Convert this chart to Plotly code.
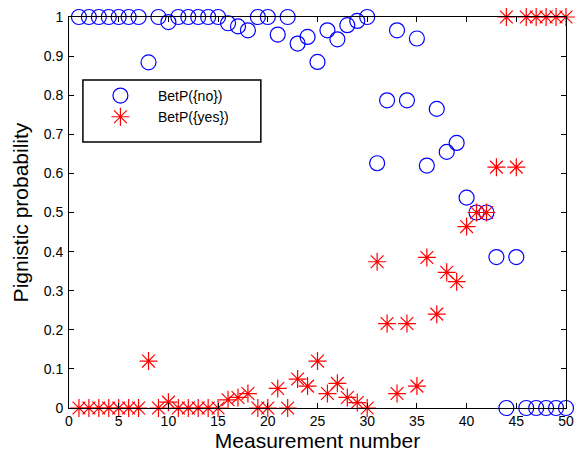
import plotly.graph_objects as go

measurement = list(range(1, 51))

betp_no = [1.0, 1.0, 1.0, 1.0, 1.0, 1.0, 1.0, 0.884, 1.0, 0.987,
           1.0, 1.0, 1.0, 1.0, 1.0, 0.984, 0.976, 0.966, 1.0, 1.0,
           0.955, 1.0, 0.932, 0.949, 0.885, 0.966, 0.943, 0.979, 0.990, 1.0,
           0.626, 0.787, 0.966, 0.787, 0.945, 0.620, 0.765, 0.655, 0.678, 0.538,
           0.5, 0.5, 0.386, 0.0, 0.386, 0.0, 0.0, 0.0, 0.0, 0.0]

betp_yes = [0.0, 0.0, 0.0, 0.0, 0.0, 0.0, 0.0, 0.12, 0.0, 0.015,
            0.0, 0.0, 0.0, 0.0, 0.0, 0.021, 0.027, 0.037, 0.0, 0.0,
            0.05, 0.0, 0.074, 0.056, 0.12, 0.037, 0.063, 0.027, 0.014, 0.0,
            0.374, 0.216, 0.037, 0.216, 0.056, 0.385, 0.24, 0.347, 0.323, 0.464,
            0.5, 0.5, 0.616, 1.0, 0.616, 1.0, 1.0, 1.0, 1.0, 1.0]

x_ticks = [0, 5, 10, 15, 20, 25, 30, 35, 40, 45, 50]
y_ticks = [0, 0.1, 0.2, 0.3, 0.4, 0.5, 0.6, 0.7, 0.8, 0.9, 1]
y_tick_labels = ["0", "0.1", "0.2", "0.3", "0.4", "0.5", "0.6", "0.7", "0.8", "0.9", "1"]

FONT = "Liberation Sans, Arial, Helvetica, sans-serif"

fig = go.Figure()
fig.add_trace(go.Scatter(
    x=measurement, y=betp_no, mode="markers", name="BetP({no})",
    legendgroup="no",
    marker=dict(symbol="circle-open", size=15, color="#0000ff",
                line=dict(width=1.2, color="#0000ff")),
    cliponaxis=False,
))
fig.add_trace(go.Scatter(
    x=measurement, y=betp_yes, mode="markers", name="BetP({yes})",
    legendgroup="yes",
    marker=dict(symbol="asterisk-open", size=15, color="#ff0000",
                line=dict(width=1.2, color="#ff0000")),
    cliponaxis=False,
))

axis_common = dict(
    showgrid=False, zeroline=False, showline=True, linecolor="black",
    linewidth=1, mirror="ticks", ticks="inside", ticklen=5,
    tickcolor="black", tickwidth=1, automargin=False,
    tickfont=dict(family=FONT, size=14, color="black"),
)

# plot area: 497 x 391 px (figure is offset by the 8px page margin)
fig.update_layout(
    width=577, height=447,
    margin=dict(l=61, r=19, t=9, b=47),
    paper_bgcolor="white", plot_bgcolor="white",
    font=dict(family=FONT, color="black"),
    xaxis=dict(range=[0, 50], tickvals=x_ticks,
               title=dict(text="Measurement number", font=dict(family=FONT, size=21), standoff=4),
               **axis_common),
    yaxis=dict(range=[0, 1], tickvals=y_ticks, ticktext=y_tick_labels,
               ticklabelstandoff=2,
               title=dict(text="Pignistic probability", font=dict(family=FONT, size=21), standoff=9),
               **axis_common),
    legend=dict(x=0.028, y=0.839, xanchor="left", yanchor="top",
                borderwidth=0, bgcolor="rgba(0,0,0,0)",
                font=dict(family=FONT, size=14, color="black"),
                itemwidth=65, tracegroupgap=12, traceorder="normal"),
    showlegend=True,
    shapes=[dict(type="rect", xref="paper", yref="paper",
                 x0=0.028, x1=0.386, y0=0.68, y1=0.839,
                 line=dict(color="black", width=1.5), fillcolor="white",
                 layer="below")],
)

fig.write_html("out.html")
